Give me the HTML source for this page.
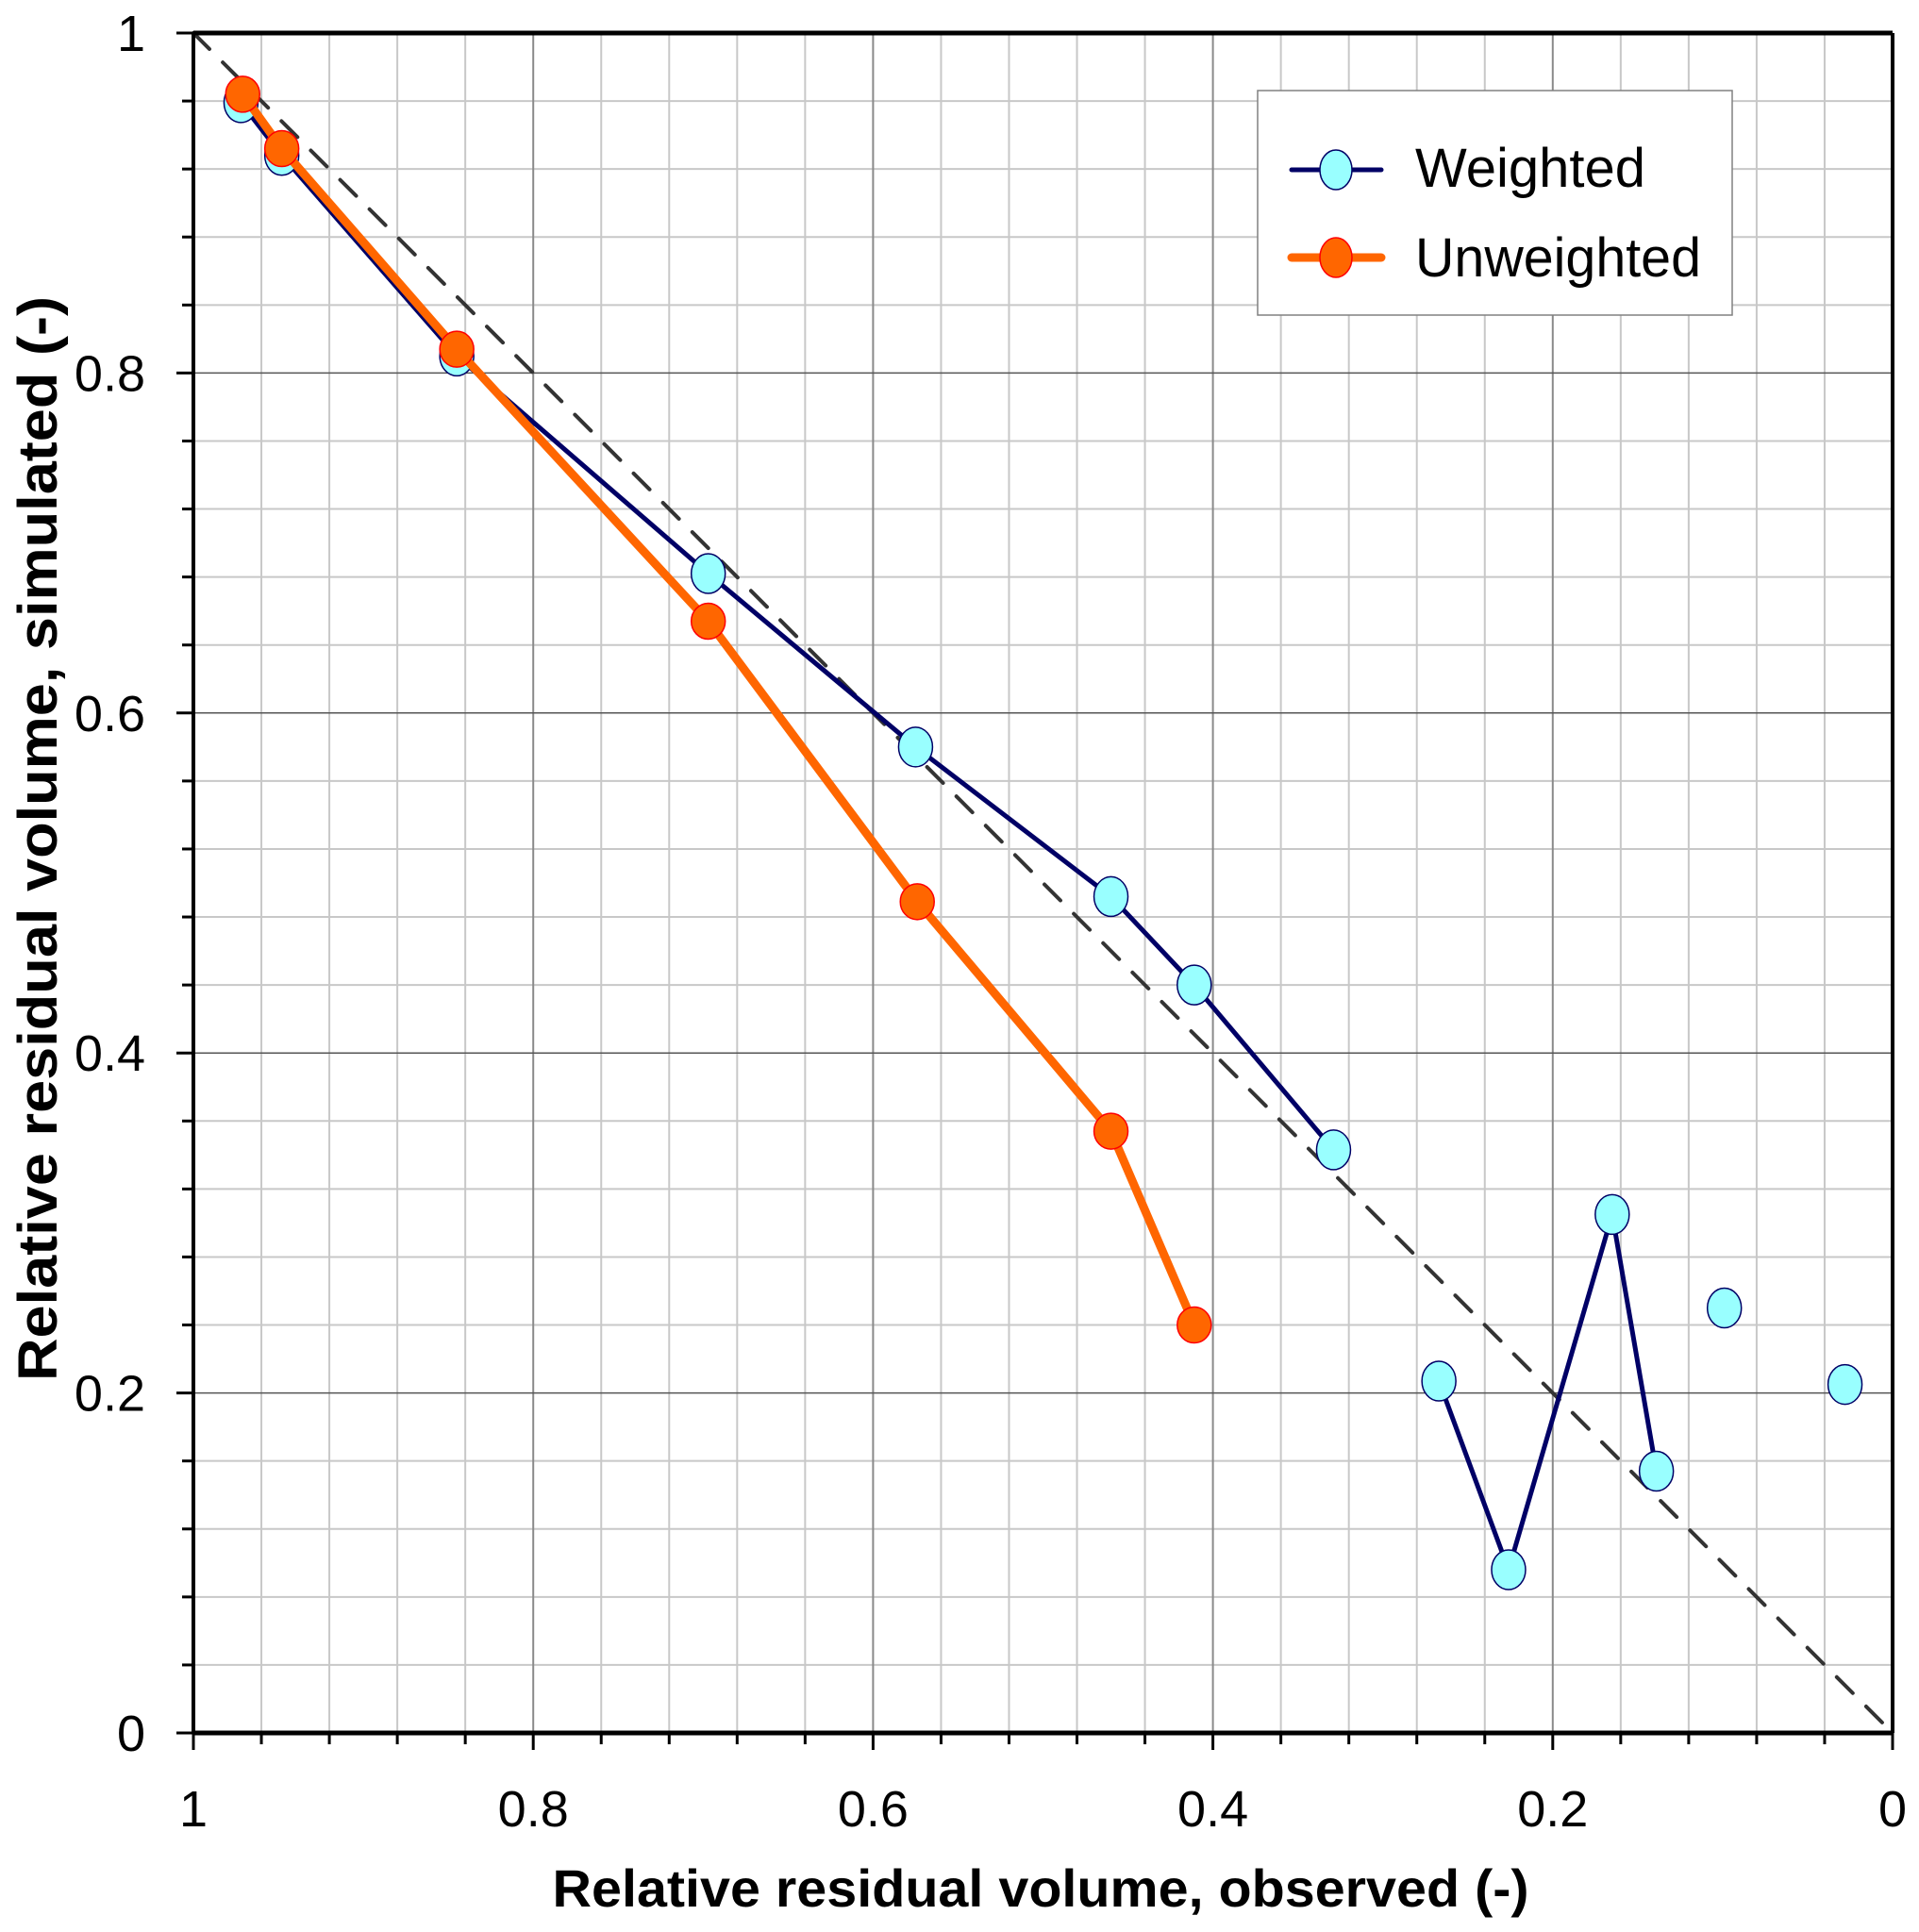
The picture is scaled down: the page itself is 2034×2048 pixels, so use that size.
<!DOCTYPE html>
<html><head><meta charset="utf-8">
<style>
html,body{margin:0;padding:0;background:#fff;}
svg{display:block;}
text{font-family:"Liberation Sans",Arial,sans-serif;}
</style></head>
<body>
<svg id="chart" width="2034" height="2048" viewBox="0 0 2034 2048" xmlns="http://www.w3.org/2000/svg">
<g id="grid"></g>
<g id="series"></g>
<g id="axes"></g>
<text x="1103" y="2021" font-size="56" font-weight="bold" text-anchor="middle" textLength="1035" lengthAdjust="spacingAndGlyphs">Relative residual volume, observed (-)</text>
<text transform="translate(60,889) rotate(-90)" font-size="58" font-weight="bold" text-anchor="middle" textLength="1150" lengthAdjust="spacingAndGlyphs">Relative residual volume, simulated (-)</text>
<g>
<rect x="1333" y="96" width="503" height="238" fill="#fff" stroke="#808080" stroke-width="1.5"/>
<g>
<line x1="1369" y1="180" x2="1464" y2="180" stroke="#000066" stroke-width="5" stroke-linecap="round"/>
<ellipse cx="1416" cy="180" rx="17" ry="21" fill="#99ffff" stroke="#000066" stroke-width="1.5"/>
<text x="1500" y="198" font-size="58" textLength="244" lengthAdjust="spacingAndGlyphs">Weighted</text>
</g>
<g>
<line x1="1369" y1="273" x2="1464" y2="273" stroke="#ff6600" stroke-width="9" stroke-linecap="round"/>
<ellipse cx="1416" cy="273" rx="17" ry="21" fill="#ff6600" stroke="#ff0000" stroke-width="1.5"/>
<text x="1500" y="293" font-size="58" textLength="303" lengthAdjust="spacingAndGlyphs">Unweighted</text>
</g>
</g>
</svg>
<script>
const xTicks = [1, 0.8, 0.6, 0.4, 0.2, 0];
const yTicks = [0, 0.2, 0.4, 0.6, 0.8, 1];
const xTickLabels = ["1", "0.8", "0.6", "0.4", "0.2", "0"];
const yTickLabels = ["0", "0.2", "0.4", "0.6", "0.8", "1"];
const weightedX = [0.972, 0.948, 0.845, 0.697, 0.575, 0.460, 0.411, 0.329, null, 0.267, 0.226, 0.165, 0.139, null, 0.099, null, 0.028];
const weightedY = [0.959, 0.928, 0.810, 0.682, 0.580, 0.492, 0.440, 0.343, null, 0.207, 0.096, 0.305, 0.154, null, 0.250, null, 0.205];
const unweightedX = [0.971, 0.948, 0.845, 0.697, 0.574, 0.460, 0.411];
const unweightedY = [0.964, 0.932, 0.814, 0.654, 0.489, 0.354, 0.240];

const L = 205, R = 2006, T = 35, B = 1837;
const NS = "http://www.w3.org/2000/svg";
function sx(v) { return L + (1 - v) * (R - L); }
function sy(v) { return B - v * (B - T); }
function mk(tag, attrs, parent) {
  const e = document.createElementNS(NS, tag);
  for (const k in attrs) e.setAttribute(k, attrs[k]);
  parent.appendChild(e);
  return e;
}
const grid = document.getElementById('grid');
const axes = document.getElementById('axes');
const series = document.getElementById('series');

for (let i = 1; i < 25; i++) {
  const v = i * 0.04;
  if (i % 5 === 0) continue;
  const gx = mk('line', {x1: sx(v), y1: T, x2: sx(v), y2: B, stroke: '#c8c8c8', 'stroke-width': 2}, grid);
  
  
  const gy = mk('line', {x1: L, y1: sy(v), x2: R, y2: sy(v), stroke: '#c8c8c8', 'stroke-width': 2}, grid);
  
  
}
xTicks.forEach(v => {
  if (v === 0 || v === 1) return;
  const g = mk('line', {x1: sx(v), y1: T, x2: sx(v), y2: B, stroke: '#8a8a8a', 'stroke-width': 2}, grid);
  
  
});
yTicks.forEach(v => {
  if (v === 0 || v === 1) return;
  const g = mk('line', {x1: L, y1: sy(v), x2: R, y2: sy(v), stroke: '#555', 'stroke-width': 1.5}, grid);
  
  
});

const d = mk('line', {x1: sx(1), y1: sy(1), x2: sx(0), y2: sy(0), stroke: '#333', 'stroke-width': 4, 'stroke-dasharray': '24 20', 'stroke-linecap': 'round'}, series);



function drawSeries(xs, ys, color, width, fill, strokeM, rx, ry, name) {
  const g = mk('g', {}, series);
  
  
  let seg = [];
  const segs = [];
  for (let i = 0; i < xs.length; i++) {
    if (xs[i] === null) { if (seg.length) segs.push(seg); seg = []; continue; }
    seg.push([sx(xs[i]), sy(ys[i])]);
  }
  if (seg.length) segs.push(seg);
  segs.forEach(s => {
    if (s.length < 2) return;
    const p = mk('polyline', {points: s.map(q => q.join(',')).join(' '), fill: 'none', stroke: color, 'stroke-width': width, 'stroke-linejoin': 'round'}, g);
    
    
  });
  for (let i = 0; i < xs.length; i++) {
    if (xs[i] === null) continue;
    const c = mk('ellipse', {cx: sx(xs[i]), cy: sy(ys[i]), rx: rx, ry: ry, fill: fill, stroke: strokeM, 'stroke-width': 1.5}, g);
    
    
  }
}
drawSeries(weightedX, weightedY, '#000066', 5, '#99ffff', '#000066', 18, 21, 'weighted');
drawSeries(unweightedX, unweightedY, '#ff6600', 9, '#ff6600', '#ff0000', 18, 19, 'unweighted');

[[L, T, R, T, 5], [R, T, R, B, 4], [L, T, L, B, 4], [L, B, R, B, 5]].forEach(a => {
  const l = mk('line', {x1: a[0], y1: a[1], x2: a[2], y2: a[3], stroke: '#000', 'stroke-width': a[4]}, axes);
  
  
});
for (let i = 0; i <= 25; i++) {
  const v = i * 0.04;
  const major = i % 5 === 0;
  const tx = mk('line', {x1: sx(v), y1: B, x2: sx(v), y2: B + (major ? 18 : 12), stroke: '#000', 'stroke-width': 3}, axes);
  
  
  const ty = mk('line', {x1: L - (major ? 18 : 12), y1: sy(v), x2: L, y2: sy(v), stroke: '#000', 'stroke-width': 3}, axes);
  
  
}
xTicks.forEach((v, i) => {
  const t = mk('text', {x: sx(v), y: 1936, 'font-size': 54, 'text-anchor': 'middle'}, axes);
  t.textContent = xTickLabels[i];
  
  
});
yTicks.forEach((v, i) => {
  const t = mk('text', {x: 154, y: sy(v) + 19, 'font-size': 54, 'text-anchor': 'end'}, axes);
  t.textContent = yTickLabels[i];
  
  
});
</script>
</body></html>
